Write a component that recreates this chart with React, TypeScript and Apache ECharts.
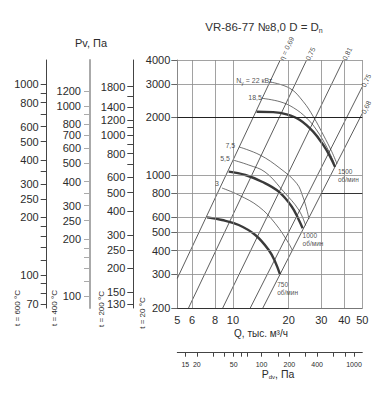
import React, { useEffect, useRef } from 'react';
import * as echarts from 'echarts';

const FONT = '"Liberation Sans", Arial, sans-serif';
const TXT = '#2b2b2b';

// main axes (t = 20 °C)
const qRange = [5, 50];
const pRange = [200, 4000];
const qLabels = [5, 6, 8, 10, 20, 30, 40, 50];
const pLabels = [200, 300, 400, 500, 600, 800, 1000, 2000, 3000, 4000];
const qGridLines = [6, 8, 10, 20, 30, 40, 50];
const pGridLines = [300, 400, 500, 600, 800, 1000, 3000, 4000];
const pHeavyLine = 2000;

// temperature scales
const t200Range = [124, 2480];
const t200Labels = [130, 150, 200, 250, 300, 400, 500, 600, 800, 1000, 1200, 1400, 1800];
const t200Ticks = [130, 150, 200, 250, 300, 400, 500, 600, 700, 800, 900, 1000, 1100, 1200, 1400, 1600, 1800];
const t400Range = [87, 1740];
const t400Labels = [100, 200, 250, 300, 400, 500, 600, 700, 800, 1000, 1200];
const t400Ticks = [100, 120, 140, 160, 180, 200, 250, 300, 350, 400, 500, 600, 700, 800, 900, 1000, 1200];
const t600Range = [67, 1340];
const t600Labels = [70, 100, 200, 250, 300, 400, 500, 600, 800, 1000];
const t600Ticks = [70, 80, 90, 100, 120, 140, 160, 180, 200, 250, 300, 350, 400, 500, 600, 700, 800, 900, 1000];

// dynamic pressure scale
const pdvRange = [12.3, 1230];
const pdvLabels = [15, 20, 50, 100, 200, 400, 1000];
const pdvTicks = [15, 20, 30, 40, 50, 60, 70, 100, 150, 200, 300, 400, 600, 800, 1000];

// efficiency lines [Q, P]
const eta069 = [[5.0, 286], [18.0, 4000]];
const eta075a = [[5.75, 200], [25.0, 4000]];
const eta081 = [[8.8, 200], [39.5, 4000]];
const eta075b = [[12.4, 200], [50, 2900]];
const eta068 = [[14.5, 200], [50, 2100]];

// fan curves
const n1500 = [[13.4, 2140], [16.5, 2130], [19.5, 2075], [23.0, 1940], [27.2, 1680], [30.8, 1430], [33.5, 1245], [35.6, 1100]];
const n1000 = [[9.48, 1038], [11.66, 997], [14.35, 919], [17.66, 815], [20.8, 680], [22.7, 579], [23.8, 524]];
const n750 = [[7.24, 598], [8.72, 579], [10.74, 545], [13.2, 483], [15.6, 403], [16.9, 350], [18.0, 298]];

// motor power curves
const pw22 = [[15.9, 3066], [20.3, 2841], [24.0, 2417], [27.2, 2016], [30.8, 1616], [34.2, 1321], [36.5, 1140]];
const pw185 = [[14.35, 2518], [17.95, 2417], [21.2, 2249], [25.0, 1985], [28.3, 1717], [32.1, 1399], [35.2, 1153]];
const pw75 = [[10.8, 1399], [14.0, 1269], [17.95, 1081], [22.1, 901], [23.9, 764], [25.1, 653], [25.75, 586]];
const pw55 = [[10.0, 1195], [12.16, 1125], [14.9, 1034], [18.8, 815], [22.7, 653], [24.7, 542]];
const pw3 = [[8.72, 852], [10.74, 783], [13.8, 680], [16.9, 556], [20.0, 437], [21.0, 398]];

const fmt = (v: number) => String(Math.round(v));

function tempAxis(range: number[], labels: number[], ticks: number[], offset: number, color: string, width: number, margin: number) {
  return {
    type: 'log', logBase: 10, min: range[0], max: range[1], position: 'left', offset,
    axisLine: { show: true, lineStyle: { color, width } },
    axisTick: { show: true, customValues: ticks, length: 6, lineStyle: { color, width: 1 } },
    axisLabel: { customValues: labels, formatter: fmt, fontSize: 11, color: TXT, fontFamily: FONT, margin },
    splitLine: { show: false },
  };
}

const lineSeries = (data: number[][], width: number, color: string, smooth: boolean | number) => ({
  type: 'line', data, showSymbol: false, symbol: 'none', smooth, silent: true, clip: false,
  color, lineStyle: { width, color }, z: 3,
});

const lbl = (value: number[], text: string, opts: any) => ({
  value,
  label: {
    show: true, formatter: text, fontSize: 7, color: '#222', fontFamily: FONT,
    textBorderWidth: 0, textBorderColor: 'transparent', textShadowBlur: 0, ...opts,
  },
});

const subRich = {
  a: { fontSize: 7, color: '#222', fontFamily: FONT, lineHeight: 9 },
  s: { fontSize: 5, color: '#222', fontFamily: FONT, verticalAlign: 'bottom', lineHeight: 7 },
};

export default function App() {
  const ref = useRef<HTMLDivElement>(null);
  useEffect(() => {
    const chart = echarts.init(ref.current!, undefined, { renderer: 'svg' });
    const option: any = {
      animation: false,
      backgroundColor: '#fff',
      grid: [{ left: 177.3, top: 60, width: 185, height: 248, containLabel: false }],
      xAxis: [
        {
          type: 'log', logBase: 10, min: qRange[0], max: qRange[1], position: 'bottom',
          axisLine: { show: true, lineStyle: { color: '#777', width: 1 } },
          axisTick: { show: false },
          axisLabel: { customValues: qLabels, formatter: fmt, fontSize: 11, color: TXT, fontFamily: FONT, margin: 6 },
          splitLine: { show: false },
        },
        {
          type: 'log', logBase: 10, min: pdvRange[0], max: pdvRange[1], position: 'bottom', offset: 44.7,
          axisLine: { show: true, lineStyle: { color: '#444', width: 1 } },
          axisTick: { show: true, customValues: pdvTicks, length: 4, lineStyle: { color: '#444' } },
          axisLabel: { customValues: pdvLabels, formatter: fmt, fontSize: 7, color: TXT, fontFamily: FONT, margin: 8 },
          splitLine: { show: false },
        },
      ],
      yAxis: [
        {
          type: 'log', logBase: 10, min: pRange[0], max: pRange[1], position: 'left',
          axisLine: { show: true, lineStyle: { color: '#888', width: 1 } },
          axisTick: { show: true, customValues: pLabels, length: 6, lineStyle: { color: '#666' } },
          axisLabel: { customValues: pLabels, formatter: fmt, fontSize: 11, color: TXT, fontFamily: FONT, margin: 7 },
          splitLine: { show: false },
        },
        tempAxis(t200Range, t200Labels, t200Ticks, 44, '#444', 1, 8),
        tempAxis(t400Range, t400Labels, t400Ticks, 87.3, '#aaa', 2, 9),
        tempAxis(t600Range, t600Labels, t600Ticks, 130.6, '#444', 1, 8),
      ],
      graphic: [
        {
          type: 'text', x: 264, y: 27,
          style: {
            text: '{a|VR-86-77 №8,0 D = D}{s|n}', align: 'center', verticalAlign: 'middle',
            rich: {
              a: { fontSize: 11.5, fill: '#333', fontFamily: FONT, lineHeight: 14 },
              s: { fontSize: 7, fill: '#333', fontFamily: FONT, verticalAlign: 'bottom', lineHeight: 11 },
            },
          },
        },
        { type: 'text', x: 91, y: 43, style: { text: 'Pv, Па', fontSize: 11, fontFamily: FONT, fill: TXT, align: 'center', verticalAlign: 'middle' } },
        { type: 'text', x: 261, y: 333, style: { text: 'Q, тыс. м³/ч', fontSize: 10, fontFamily: FONT, fill: TXT, align: 'center', verticalAlign: 'middle' } },
        {
          type: 'text', x: 278, y: 374,
          style: {
            text: '{a|P}{s|dv}{a|, Па}', align: 'center', verticalAlign: 'middle',
            rich: {
              a: { fontSize: 10.5, fill: TXT, fontFamily: FONT, lineHeight: 12 },
              s: { fontSize: 6, fill: TXT, fontFamily: FONT, verticalAlign: 'bottom', lineHeight: 10 },
            },
          },
        },
        { type: 'text', x: 17, y: 308, rotation: Math.PI / 2, style: { text: 't = 600 °C', fontSize: 8, fontFamily: FONT, fill: TXT, align: 'center', verticalAlign: 'middle' } },
        { type: 'text', x: 54.5, y: 308, rotation: Math.PI / 2, style: { text: 't = 400 °C', fontSize: 8, fontFamily: FONT, fill: TXT, align: 'center', verticalAlign: 'middle' } },
        { type: 'text', x: 101.7, y: 309, rotation: Math.PI / 2, style: { text: 't = 200 °C', fontSize: 8, fontFamily: FONT, fill: TXT, align: 'center', verticalAlign: 'middle' } },
        { type: 'text', x: 142.5, y: 313, rotation: Math.PI / 2, style: { text: 't = 20 °C', fontSize: 8, fontFamily: FONT, fill: TXT, align: 'center', verticalAlign: 'middle' } },
      ],
      series: [
        {
          type: 'line', data: [[qRange[0], pRange[0]]], symbol: 'none', silent: true, z: 1,
          markLine: {
            symbol: ['none', 'none'], silent: true, label: { show: false }, animation: false,
            lineStyle: { color: '#8a8a8a', width: 0.8, type: 'solid' },
            data: [
              ...qGridLines.map((v) => ({ xAxis: v })),
              ...pGridLines.map((v) => ({ yAxis: v })),
              { yAxis: pHeavyLine, lineStyle: { color: '#222', width: 1.2, type: 'solid' } },
              [{ coord: [5, 200], lineStyle: { color: '#333', width: 1.2, type: 'solid' } }, { coord: [20, 200] }],
              [{ coord: [30, 800], lineStyle: { color: '#333', width: 1.2, type: 'solid' } }, { coord: [50, 800] }],
            ],
          },
        },
        lineSeries(eta069, 0.8, '#333', false),
        lineSeries(eta075a, 0.8, '#333', false),
        lineSeries(eta081, 0.8, '#333', false),
        lineSeries(eta075b, 0.8, '#333', false),
        lineSeries(eta068, 0.8, '#333', false),
        lineSeries(pw22, 0.7, '#333', 0.4),
        lineSeries(pw185, 0.7, '#333', 0.4),
        lineSeries(pw75, 0.7, '#333', 0.4),
        lineSeries(pw55, 0.7, '#333', 0.4),
        lineSeries(pw3, 0.7, '#333', 0.4),
        lineSeries(n1500, 2.4, '#3a3a3a', 0.4),
        lineSeries(n1000, 2.4, '#3a3a3a', 0.4),
        lineSeries(n750, 2.4, '#3a3a3a', 0.4),
        {
          type: 'scatter', symbol: 'circle', symbolSize: 0.1, silent: true, clip: false, z: 5,
          color: '#222',
          itemStyle: { color: 'rgba(0,0,0,0)' },
          data: [
            lbl(eta069[1], 'η = 0,69', { position: [1, 0], align: 'left', verticalAlign: 'middle', rotate: 64 }),
            lbl(eta075a[1], '0,75', { position: [1, 0], align: 'left', verticalAlign: 'middle', rotate: 64 }),
            lbl(eta081[1], '0,81', { position: [1, 0], align: 'left', verticalAlign: 'middle', rotate: 64 }),
            lbl(eta075b[1], '0,75', { position: [1, 0], align: 'left', verticalAlign: 'middle', rotate: 64 }),
            lbl(eta068[1], '0,68', { position: [1, 0], align: 'left', verticalAlign: 'middle', rotate: 64 }),
            lbl(pw22[0], '{a|N}{s|у}{a| = 22 кВт}', { position: [2, -1], align: 'right', verticalAlign: 'middle', rich: subRich }),
            lbl(pw185[0], '18,5', { position: [0, -1], align: 'right', verticalAlign: 'middle' }),
            lbl(pw75[0], '7,5', { position: [-4, -1], align: 'right', verticalAlign: 'middle' }),
            lbl(pw55[0], '5,5', { position: [-3, -1], align: 'right', verticalAlign: 'middle' }),
            lbl(pw3[0], '3', { position: [-3, -4], align: 'right', verticalAlign: 'middle' }),
            lbl(n1500[n1500.length - 1], '1500\nоб/мин', { position: [3, 1], align: 'left', verticalAlign: 'top', fontSize: 6.5, lineHeight: 8 }),
            lbl(n1000[n1000.length - 1], '1000\nоб/мин', { position: [0, 3], align: 'left', verticalAlign: 'top', fontSize: 6.5, lineHeight: 8 }),
            lbl(n750[n750.length - 1], '750\nоб/мин', { position: [-3, 6], align: 'left', verticalAlign: 'top', fontSize: 6.5, lineHeight: 8 }),
          ],
        },
      ],
    };
    chart.setOption(option);
    return () => chart.dispose();
  }, []);
  return <div ref={ref} style={{ position: 'absolute', left: 0, top: 0, width: 387, height: 399, background: '#fff' }} />;
}
